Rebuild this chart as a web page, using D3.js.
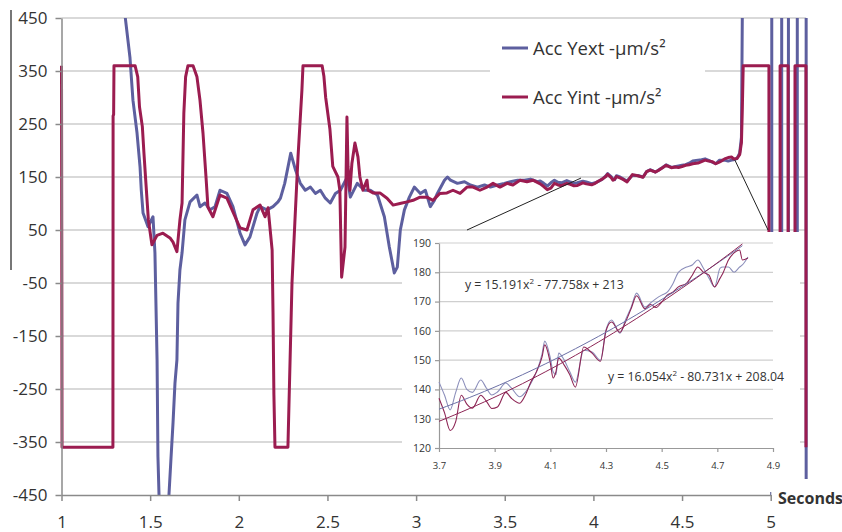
<!DOCTYPE html>
<html>
<head>
<meta charset="utf-8">
<script src="https://cdn.jsdelivr.net/npm/d3@7"></script>
<style>
  body { margin: 0; background: #fff; }
  svg { display: block; }
  text { font-family: "Open Sans", "DejaVu Sans", sans-serif; fill: #333; }
</style>
</head>
<body>
<svg id="chart" width="842" height="532"></svg>
<script>
// ---- Tick values -------------------------------------------------------
const yTicks = [-450, -350, -250, -150, -50, 50, 150, 250, 350, 450];
const xTicks = [1, 1.5, 2, 2.5, 3, 3.5, 4, 4.5, 5];
const insetYTicks = [120, 130, 140, 150, 160, 170, 180, 190];
const insetXTicks = [3.7, 3.9, 4.1, 4.3, 4.5, 4.7, 4.9];

// ---- Acc Yext (external), start of record ------------------------------
const extEarlyT = [1.33, 1.36, 1.386, 1.403, 1.426, 1.443, 1.45, 1.46, 1.488, 1.516, 1.527, 1.539, 1.544, 1.55, 1.553,
  1.603, 1.606, 1.618, 1.629, 1.64, 1.651, 1.657, 1.668, 1.68, 1.696, 1.725, 1.764, 1.781, 1.809, 1.838, 1.866,
  1.894, 1.933, 1.967, 2.007, 2.035, 2.063, 2.103, 2.12, 2.159, 2.193, 2.221, 2.235, 2.259, 2.293, 2.32, 2.347,
  2.375, 2.404, 2.432, 2.46, 2.488, 2.516, 2.545, 2.573, 2.612, 2.629, 2.668, 2.708, 2.742, 2.782, 2.821, 2.849,
  2.877, 2.894, 2.911, 2.934, 2.962, 2.99, 3.007, 3.024, 3.052, 3.08, 3.103, 3.12, 3.16, 3.177, 3.194, 3.233,
  3.273, 3.306, 3.346, 3.386, 3.419, 3.459, 3.498, 3.532, 3.572, 3.611, 3.645, 3.685];
const extEarlyV = [560, 450, 376, 295, 233, 169, 125, 82, 56, 75, 7, -195, -378, -450, -500,
  -500, -450, -378, -314, -239, -195, -88, -25, 7, 69, 103, 116, 94, 101, 88, 94,
  125, 119, 94, 44, 22, 37, 82, 94, 88, 94, 103, 110, 138, 195, 163, 138,
  125, 131, 119, 125, 110, 101, 119, 125, 150, 112, 138, 125, 125, 116, 75, 18,
  -31, -20, 50, 88, 112, 131, 125, 119, 125, 94, 106, 119, 144, 150, 144, 138,
  141, 135, 131, 135, 131, 135, 138, 141, 144, 144, 146, 141];

// ---- Acc Yint (internal), start of record ------------------------------
const intEarlyT = [1.0, 1.0015, 1.003, 1.29, 1.291, 1.294, 1.296, 1.415, 1.43, 1.44, 1.456, 1.465, 1.475, 1.49, 1.51,
  1.539, 1.572, 1.612, 1.629, 1.651, 1.668, 1.68, 1.69, 1.70, 1.713, 1.742, 1.764, 1.781, 1.798, 1.815, 1.826,
  1.854, 1.894, 1.933, 1.967, 2.007, 2.046, 2.08, 2.12, 2.148, 2.165, 2.188, 2.193, 2.198, 2.204, 2.277, 2.30,
  2.316, 2.334, 2.356, 2.362, 2.47, 2.48, 2.49, 2.514, 2.53, 2.559, 2.57, 2.58, 2.599, 2.61, 2.616, 2.627,
  2.638, 2.655, 2.672, 2.683, 2.70, 2.723, 2.729, 2.757, 2.796, 2.836, 2.87, 2.909, 2.949, 2.983, 3.022, 3.061,
  3.095, 3.134, 3.174, 3.208, 3.248, 3.287, 3.321, 3.36, 3.40, 3.434, 3.473, 3.513, 3.546, 3.586, 3.625, 3.659];
const intEarlyV = [360, 30, -360, -360, 265, 268, 360, 360, 339, 282, 245, 195, 144, 69, 22,
  40, 44, 35, 27, 9, 69, 101, 270, 339, 360, 360, 339, 295, 233, 150, 93,
  75, 116, 110, 84, 54, 50, 88, 97, 75, 92, 12, -106, -261, -360, -360, -50,
  63, 188, 314, 360, 360, 340, 300, 240, 170, 150, 125, -39, 18, 263, 169, 125,
  176, 214, 188, 150, 125, 144, 125, 120, 120, 110, 97, 100, 103, 106, 112, 112,
  106, 119, 120, 125, 119, 131, 131, 125, 131, 138, 131, 138, 135, 144, 141, 144];

// ---- Detail window 3.7 s .. 4.81 s (both sensors) ----------------------
const zoomT = [3.70, 3.72, 3.74, 3.76, 3.78, 3.80, 3.82, 3.85, 3.87, 3.89, 3.91, 3.94, 3.96, 3.99, 4.01, 4.03,
  4.05, 4.07, 4.08, 4.10, 4.11, 4.12, 4.13, 4.15, 4.17, 4.19, 4.22, 4.25, 4.28, 4.30, 4.32, 4.35, 4.37, 4.39,
  4.41, 4.44, 4.46, 4.48, 4.50, 4.52, 4.54, 4.56, 4.59, 4.61, 4.63, 4.65, 4.67, 4.69, 4.71, 4.72, 4.74, 4.76,
  4.78, 4.79, 4.81];
const zoomExt = [142.5, 138, 133, 139, 143.9, 140, 139, 143.2, 140.5, 138.1, 139.1, 142.2, 140.5, 137.5, 139, 142,
  146, 152, 156.5, 150.7, 146, 145, 152.4, 150, 146, 142.5, 153.4, 152.8, 150, 160.3, 163.7, 159.2, 163.7, 168,
  172.9, 168.1, 169.5, 171, 172.2, 173.2, 176, 180, 181.8, 182.5, 184.2, 181.4, 178, 175, 181.4, 181.8, 181.8, 180,
  181.8, 182.5, 185.2];
const zoomInt = [137, 132, 126, 129, 138, 135, 133.6, 138, 136, 133.5, 134, 139, 137, 135.3, 138, 142.5,
  146, 151, 155.2, 149, 143.9, 146, 150.7, 148.3, 145, 140.8, 154.5, 152.4, 149.6, 160, 163, 159.5, 163, 167.5,
  172, 167.5, 169, 168, 169.8, 172.2, 173.2, 175, 176.3, 179, 181.8, 180, 179, 175, 178, 179.7, 184.2, 186.6,
  187.6, 184.2, 184.9];

// ---- End of record: saturated switching ---------------------------------
const extTailT = [4.825, 4.835, 4.843, 5.006, 5.006, 5.062, 5.062, 5.10, 5.10, 5.15, 5.15, 5.20, 5.20];
const extTailV = [195, 225, 600, 600, -420, -420, 600, 600, -420, -420, 600, 600, -420];
const intTailT = [4.825, 4.835, 4.84, 4.845, 4.99, 4.99, 5.053, 5.053, 5.098, 5.098, 5.137, 5.137, 5.199, 5.199];
const intTailV = [192, 215, 280, 360, 360, -360, -360, 360, 360, -360, -360, 360, 360, -360];

// ---- Quadratic trend coefficients (a, b, c) ----------------------------
const trendExt = [15.191, -77.758, 213];
const trendInt = [16.054, -80.731, 208.04];

const seriesNames = ["Acc Yext -\u00b5m/s\u00b2", "Acc Yint -\u00b5m/s\u00b2"];
const colExt = "#5d5f9f", colInt = "#9b1c50";

// ------------------------------------------------------------------------
const svg = d3.select("#chart");
const x = d3.scaleLinear().domain([1, 5]).range([61.5, 770.7]);
const y = d3.scaleLinear().domain([-450, 450]).range([495, 18]);
const xEnd = 5.2;
const plain = d => String(d);   // hyphen-minus, as in the axis labels

const zip = (t, v) => t.map((d, i) => [d, v[i]]);
const extData = zip(extEarlyT, extEarlyV).concat(zip(zoomT, zoomExt), zip(extTailT, extTailV));
const intData = zip(intEarlyT, intEarlyV).concat(zip(zoomT, zoomInt), zip(intTailT, intTailV));

// stray frame edge at the far left
svg.append("line").attr("x1", 11).attr("x2", 11).attr("y1", 10).attr("y2", 270)
  .attr("stroke", "#777").attr("stroke-width", 2);

// main gridlines
svg.append("g").selectAll("line").data(yTicks.filter(d => d > -450)).join("line")
  .attr("x1", x(1)).attr("x2", x(xEnd))
  .attr("y1", d => y(d)).attr("y2", d => y(d))
  .attr("stroke", "#cdcdcd").attr("stroke-width", 1.5);

// clip for the series
svg.append("defs").append("clipPath").attr("id", "plotClip")
  .append("rect").attr("x", 60).attr("y", y(450)).attr("width", x(5.22) - 60).attr("height", y(-450) - y(450));

const line = d3.line().x(d => x(d[0])).y(d => y(d[1]));
const plot = svg.append("g").attr("clip-path", "url(#plotClip)");
plot.append("path").datum(extData).attr("d", line)
  .attr("fill", "none").attr("stroke", colExt).attr("stroke-width", 3).attr("stroke-linejoin", "round");
plot.append("path").datum(intData).attr("d", line)
  .attr("fill", "none").attr("stroke", colInt).attr("stroke-width", 3).attr("stroke-linejoin", "round");

// y axis
const yAxis = svg.append("g").attr("transform", `translate(${x(1)},0)`)
  .call(d3.axisLeft(y).tickValues(yTicks).tickFormat(plain).tickSize(6).tickSizeOuter(0).tickPadding(8));
yAxis.select(".domain").attr("stroke", "#8a8a8a").attr("stroke-width", 1.5);
yAxis.selectAll(".tick line").attr("stroke", "#8a8a8a").attr("stroke-width", 1.5);
yAxis.selectAll(".tick text").attr("font-size", 17).attr("fill", "#333")
  .attr("font-family", "'Open Sans', sans-serif");

// x axis
const xAxis = svg.append("g").attr("transform", `translate(0,${y(-450)})`)
  .call(d3.axisBottom(x).tickValues(xTicks).tickFormat(plain).tickSize(6).tickSizeOuter(0).tickPadding(15));
xAxis.select(".domain").attr("stroke", "#8a8a8a").attr("stroke-width", 1.5);
xAxis.selectAll(".tick line").attr("stroke", "#8a8a8a").attr("stroke-width", 1.5);
xAxis.selectAll(".tick text").attr("font-size", 17).attr("fill", "#333")
  .attr("font-family", "'Open Sans', sans-serif");

// small arrow at the end of the time axis + axis title
svg.append("path")
  .attr("d", `M${x(5)},${y(-450)} V${y(-450) - 7} M${x(5) - 2},${y(-450) - 4} L${x(5)},${y(-450) - 8} L${x(5) + 2},${y(-450) - 4}`)
  .attr("stroke", "#6a6f9c").attr("stroke-width", 1.2).attr("fill", "none");
svg.append("text").attr("x", 778).attr("y", 504).attr("font-size", 16).attr("font-weight", "bold")
  .attr("fill", "#222").text("Seconds");

// legend
const legend = svg.append("g");
legend.append("rect").attr("x", 490).attr("y", 30).attr("width", 215).attr("height", 82).attr("fill", "#fff");
[[colExt, 48], [colInt, 97]].forEach(([c, ly], i) => {
  legend.append("line").attr("x1", 502).attr("x2", 528).attr("y1", ly).attr("y2", ly)
    .attr("stroke", c).attr("stroke-width", 3);
  legend.append("text").attr("x", 533).attr("y", ly + 7).attr("font-size", 18.5).attr("fill", "#222")
    .text(seriesNames[i]);
});

// connector lines from the record to the detail window
const connectors = [[[3.93, 148], [3.287, 50]], [[4.798, 182], [4.985, 50]]];
svg.append("g").selectAll("line").data(connectors).join("line")
  .attr("x1", d => x(d[0][0])).attr("y1", d => y(d[0][1]))
  .attr("x2", d => x(d[1][0])).attr("y2", d => y(d[1][1]))
  .attr("stroke", "#222").attr("stroke-width", 1);

// ---- detail window ------------------------------------------------------
const inset = svg.append("g");
inset.append("rect").attr("x", 402).attr("y", 232).attr("width", 398).attr("height", 260).attr("fill", "#fff");
const ix = d3.scaleLinear().domain([3.7, 4.9]).range([439, 773]);
const iy = d3.scaleLinear().domain([120, 190]).range([448, 243]);

inset.append("g").selectAll("line").data(insetYTicks.filter(d => d > 120)).join("line")
  .attr("x1", ix(3.7)).attr("x2", ix(4.9)).attr("y1", d => iy(d)).attr("y2", d => iy(d))
  .attr("stroke", "#cfcfcf").attr("stroke-width", 1.2);

const iyAxis = inset.append("g").attr("transform", `translate(${ix(3.7)},0)`)
  .call(d3.axisLeft(iy).tickValues(insetYTicks).tickSize(4).tickSizeOuter(0).tickPadding(4));
const ixAxis = inset.append("g").attr("transform", `translate(0,${iy(120)})`)
  .call(d3.axisBottom(ix).tickValues(insetXTicks).tickFormat(d3.format(".1f")).tickSize(4).tickSizeOuter(0).tickPadding(10));
[iyAxis, ixAxis].forEach(g => {
  g.select(".domain").attr("stroke", "#999").attr("stroke-width", 1.2);
  g.selectAll(".tick line").attr("stroke", "#999").attr("stroke-width", 1.2);
  g.selectAll(".tick text").attr("fill", "#333").attr("font-family", "'Open Sans', sans-serif");
});
iyAxis.selectAll(".tick text").attr("font-size", 10.5);
ixAxis.selectAll(".tick text").attr("font-size", 9.5);

const iline = d3.line().x(d => ix(d[0])).y(d => iy(d[1])).curve(d3.curveMonotoneX);
inset.append("path").datum(zip(zoomT, zoomExt)).attr("d", iline)
  .attr("fill", "none").attr("stroke", "#8c8fbb").attr("stroke-width", 1.1);
inset.append("path").datum(zip(zoomT, zoomInt)).attr("d", iline)
  .attr("fill", "none").attr("stroke", "#8d2555").attr("stroke-width", 1.1);

// quadratic trendlines
const quad = (c, t) => c[0] * t * t + c[1] * t + c[2];
const trendT = d3.range(0, 41).map(i => 3.7 + i * (4.79 - 3.7) / 40);
const tline = d3.line().x(d => ix(d[0])).y(d => iy(d[1]));
inset.append("path").datum(trendT.map(t => [t, quad(trendExt, t)])).attr("d", tline)
  .attr("fill", "none").attr("stroke", "#6c70a6").attr("stroke-width", 1);
inset.append("path").datum(trendT.map(t => [t, quad(trendInt, t)])).attr("d", tline)
  .attr("fill", "none").attr("stroke", "#8d2555").attr("stroke-width", 1);

// trend equations
function equation(c, tx, ty) {
  const t = inset.append("text").attr("x", tx).attr("y", ty).attr("font-size", 12.3).attr("fill", "#222");
  t.append("tspan").text(`y = ${c[0]}x`);
  t.append("tspan").attr("dy", -5).attr("font-size", 8).text("2");
  t.append("tspan").attr("dy", 5).text(` - ${Math.abs(c[1])}x + ${c[2]}`);
}
equation(trendExt, 465, 289);
equation(trendInt, 608, 381);
</script>
</body>
</html>
